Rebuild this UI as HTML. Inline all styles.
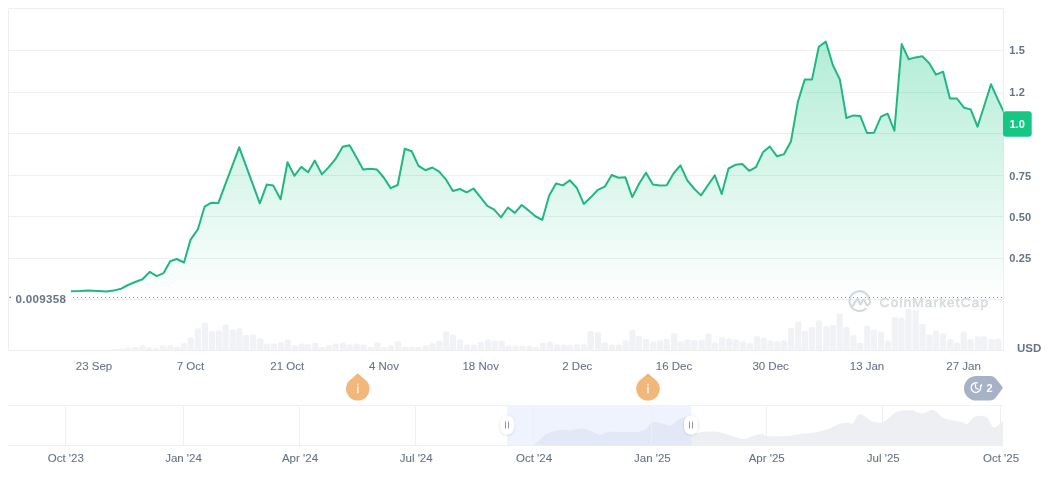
<!DOCTYPE html>
<html><head><meta charset="utf-8">
<style>
html,body{margin:0;padding:0;background:#fff;width:1061px;height:480px;overflow:hidden;}
svg{display:block;font-family:"Liberation Sans", sans-serif;will-change:transform;}
</style></head>
<body>
<svg width="1061" height="480" viewBox="0 0 1061 480">
<defs>
<linearGradient id="gf" gradientUnits="userSpaceOnUse" x1="0" y1="41" x2="0" y2="300">
<stop offset="0" stop-color="#16c784" stop-opacity="0.33"/>
<stop offset="1" stop-color="#16c784" stop-opacity="0.0"/>
</linearGradient>
<clipPath id="cp"><rect x="8" y="8" width="995.5" height="342"/></clipPath>
<filter id="sh" x="-50%" y="-50%" width="200%" height="200%"><feDropShadow dx="0" dy="0.5" stdDeviation="0.8" flood-color="#000" flood-opacity="0.18"/></filter>
</defs>
<rect x="0" y="0" width="1061" height="480" fill="#fff"/>
<!-- volume bars -->
<g fill="#f0f2f5" clip-path="url(#cp)">
<rect x="111.30" y="349.00" width="6.2" height="3.00" rx="1.8"/>
<rect x="118.10" y="348.60" width="6.2" height="3.40" rx="1.8"/>
<rect x="124.90" y="347.70" width="6.2" height="4.30" rx="1.8"/>
<rect x="132.10" y="346.90" width="6.2" height="5.10" rx="1.8"/>
<rect x="139.30" y="345.30" width="6.2" height="6.70" rx="1.8"/>
<rect x="146.10" y="347.30" width="6.2" height="4.70" rx="1.8"/>
<rect x="152.90" y="348.10" width="6.2" height="3.90" rx="1.8"/>
<rect x="160.00" y="345.20" width="6.2" height="6.80" rx="1.8"/>
<rect x="167.20" y="345.30" width="6.2" height="6.70" rx="1.8"/>
<rect x="174.00" y="346.40" width="6.2" height="5.60" rx="1.8"/>
<rect x="180.60" y="343.20" width="6.2" height="8.80" rx="1.8"/>
<rect x="187.60" y="337.40" width="6.2" height="14.60" rx="1.8"/>
<rect x="194.70" y="328.20" width="6.2" height="23.80" rx="1.8"/>
<rect x="201.80" y="322.60" width="6.2" height="29.40" rx="1.8"/>
<rect x="208.80" y="331.30" width="6.2" height="20.70" rx="1.8"/>
<rect x="215.70" y="330.30" width="6.2" height="21.70" rx="1.8"/>
<rect x="222.50" y="324.40" width="6.2" height="27.60" rx="1.8"/>
<rect x="229.60" y="329.50" width="6.2" height="22.50" rx="1.8"/>
<rect x="236.30" y="328.20" width="6.2" height="23.80" rx="1.8"/>
<rect x="243.10" y="335.00" width="6.2" height="17.00" rx="1.8"/>
<rect x="250.10" y="334.40" width="6.2" height="17.60" rx="1.8"/>
<rect x="257.20" y="338.30" width="6.2" height="13.70" rx="1.8"/>
<rect x="263.90" y="343.40" width="6.2" height="8.60" rx="1.8"/>
<rect x="270.90" y="343.40" width="6.2" height="8.60" rx="1.8"/>
<rect x="277.90" y="342.20" width="6.2" height="9.80" rx="1.8"/>
<rect x="284.70" y="339.50" width="6.2" height="12.50" rx="1.8"/>
<rect x="291.70" y="345.30" width="6.2" height="6.70" rx="1.8"/>
<rect x="298.60" y="343.40" width="6.2" height="8.60" rx="1.8"/>
<rect x="304.90" y="344.20" width="6.2" height="7.80" rx="1.8"/>
<rect x="312.30" y="342.80" width="6.2" height="9.20" rx="1.8"/>
<rect x="319.10" y="346.80" width="6.2" height="5.20" rx="1.8"/>
<rect x="325.80" y="345.20" width="6.2" height="6.80" rx="1.8"/>
<rect x="332.50" y="343.40" width="6.2" height="8.60" rx="1.8"/>
<rect x="339.90" y="342.50" width="6.2" height="9.50" rx="1.8"/>
<rect x="346.60" y="344.40" width="6.2" height="7.60" rx="1.8"/>
<rect x="353.40" y="343.40" width="6.2" height="8.60" rx="1.8"/>
<rect x="360.50" y="344.40" width="6.2" height="7.60" rx="1.8"/>
<rect x="367.50" y="346.70" width="6.2" height="5.30" rx="1.8"/>
<rect x="374.20" y="342.40" width="6.2" height="9.60" rx="1.8"/>
<rect x="380.90" y="347.00" width="6.2" height="5.00" rx="1.8"/>
<rect x="387.70" y="345.20" width="6.2" height="6.80" rx="1.8"/>
<rect x="395.00" y="341.30" width="6.2" height="10.70" rx="1.8"/>
<rect x="401.80" y="346.40" width="6.2" height="5.60" rx="1.8"/>
<rect x="408.50" y="346.40" width="6.2" height="5.60" rx="1.8"/>
<rect x="415.30" y="346.70" width="6.2" height="5.30" rx="1.8"/>
<rect x="422.60" y="345.20" width="6.2" height="6.80" rx="1.8"/>
<rect x="429.30" y="343.00" width="6.2" height="9.00" rx="1.8"/>
<rect x="436.20" y="340.80" width="6.2" height="11.20" rx="1.8"/>
<rect x="443.20" y="331.60" width="6.2" height="20.40" rx="1.8"/>
<rect x="450.00" y="334.50" width="6.2" height="17.50" rx="1.8"/>
<rect x="457.00" y="339.60" width="6.2" height="12.40" rx="1.8"/>
<rect x="464.00" y="344.50" width="6.2" height="7.50" rx="1.8"/>
<rect x="470.90" y="344.50" width="6.2" height="7.50" rx="1.8"/>
<rect x="477.90" y="341.80" width="6.2" height="10.20" rx="1.8"/>
<rect x="484.90" y="339.60" width="6.2" height="12.40" rx="1.8"/>
<rect x="491.70" y="340.60" width="6.2" height="11.40" rx="1.8"/>
<rect x="498.70" y="340.80" width="6.2" height="11.20" rx="1.8"/>
<rect x="505.40" y="345.50" width="6.2" height="6.50" rx="1.8"/>
<rect x="512.40" y="345.50" width="6.2" height="6.50" rx="1.8"/>
<rect x="519.30" y="345.50" width="6.2" height="6.50" rx="1.8"/>
<rect x="526.30" y="345.70" width="6.2" height="6.30" rx="1.8"/>
<rect x="533.00" y="346.70" width="6.2" height="5.30" rx="1.8"/>
<rect x="540.00" y="342.70" width="6.2" height="9.30" rx="1.8"/>
<rect x="546.90" y="341.80" width="6.2" height="10.20" rx="1.8"/>
<rect x="553.90" y="344.30" width="6.2" height="7.70" rx="1.8"/>
<rect x="560.60" y="344.50" width="6.2" height="7.50" rx="1.8"/>
<rect x="566.80" y="345.10" width="6.2" height="6.90" rx="1.8"/>
<rect x="573.90" y="344.30" width="6.2" height="7.70" rx="1.8"/>
<rect x="580.90" y="344.30" width="6.2" height="7.70" rx="1.8"/>
<rect x="587.60" y="331.00" width="6.2" height="21.00" rx="1.8"/>
<rect x="595.00" y="332.30" width="6.2" height="19.70" rx="1.8"/>
<rect x="601.70" y="342.30" width="6.2" height="9.70" rx="1.8"/>
<rect x="608.80" y="344.50" width="6.2" height="7.50" rx="1.8"/>
<rect x="615.80" y="344.50" width="6.2" height="7.50" rx="1.8"/>
<rect x="622.60" y="340.20" width="6.2" height="11.80" rx="1.8"/>
<rect x="629.30" y="330.00" width="6.2" height="22.00" rx="1.8"/>
<rect x="636.00" y="335.90" width="6.2" height="16.10" rx="1.8"/>
<rect x="643.00" y="339.00" width="6.2" height="13.00" rx="1.8"/>
<rect x="650.10" y="341.40" width="6.2" height="10.60" rx="1.8"/>
<rect x="656.90" y="340.20" width="6.2" height="11.80" rx="1.8"/>
<rect x="663.60" y="339.00" width="6.2" height="13.00" rx="1.8"/>
<rect x="671.00" y="333.20" width="6.2" height="18.80" rx="1.8"/>
<rect x="677.70" y="341.40" width="6.2" height="10.60" rx="1.8"/>
<rect x="684.40" y="339.40" width="6.2" height="12.60" rx="1.8"/>
<rect x="691.20" y="339.90" width="6.2" height="12.10" rx="1.8"/>
<rect x="698.60" y="339.60" width="6.2" height="12.40" rx="1.8"/>
<rect x="705.40" y="333.40" width="6.2" height="18.60" rx="1.8"/>
<rect x="712.10" y="342.40" width="6.2" height="9.60" rx="1.8"/>
<rect x="719.10" y="337.50" width="6.2" height="14.50" rx="1.8"/>
<rect x="726.00" y="338.30" width="6.2" height="13.70" rx="1.8"/>
<rect x="732.70" y="339.30" width="6.2" height="12.70" rx="1.8"/>
<rect x="739.70" y="341.20" width="6.2" height="10.80" rx="1.8"/>
<rect x="746.70" y="343.20" width="6.2" height="8.80" rx="1.8"/>
<rect x="753.80" y="336.25" width="6.2" height="15.75" rx="1.8"/>
<rect x="760.50" y="338.10" width="6.2" height="13.90" rx="1.8"/>
<rect x="767.30" y="340.30" width="6.2" height="11.70" rx="1.8"/>
<rect x="774.30" y="341.20" width="6.2" height="10.80" rx="1.8"/>
<rect x="781.10" y="340.20" width="6.2" height="11.80" rx="1.8"/>
<rect x="788.10" y="328.00" width="6.2" height="24.00" rx="1.8"/>
<rect x="795.10" y="321.20" width="6.2" height="30.80" rx="1.8"/>
<rect x="801.80" y="331.00" width="6.2" height="21.00" rx="1.8"/>
<rect x="808.70" y="327.00" width="6.2" height="25.00" rx="1.8"/>
<rect x="815.70" y="320.30" width="6.2" height="31.70" rx="1.8"/>
<rect x="823.15" y="326.25" width="6.2" height="25.75" rx="1.8"/>
<rect x="829.80" y="325.00" width="6.2" height="27.00" rx="1.8"/>
<rect x="836.65" y="313.75" width="6.2" height="38.25" rx="1.8"/>
<rect x="843.40" y="326.90" width="6.2" height="25.10" rx="1.8"/>
<rect x="850.40" y="335.25" width="6.2" height="16.75" rx="1.8"/>
<rect x="857.15" y="342.75" width="6.2" height="9.25" rx="1.8"/>
<rect x="864.15" y="325.60" width="6.2" height="26.40" rx="1.8"/>
<rect x="870.90" y="329.40" width="6.2" height="22.60" rx="1.8"/>
<rect x="877.90" y="331.50" width="6.2" height="20.50" rx="1.8"/>
<rect x="884.80" y="340.60" width="6.2" height="11.40" rx="1.8"/>
<rect x="891.65" y="316.90" width="6.2" height="35.10" rx="1.8"/>
<rect x="898.40" y="317.75" width="6.2" height="34.25" rx="1.8"/>
<rect x="905.40" y="308.75" width="6.2" height="43.25" rx="1.8"/>
<rect x="912.50" y="309.75" width="6.2" height="42.25" rx="1.8"/>
<rect x="919.40" y="323.75" width="6.2" height="28.25" rx="1.8"/>
<rect x="926.30" y="334.40" width="6.2" height="17.60" rx="1.8"/>
<rect x="933.15" y="330.60" width="6.2" height="21.40" rx="1.8"/>
<rect x="940.00" y="333.50" width="6.2" height="18.50" rx="1.8"/>
<rect x="947.10" y="339.00" width="6.2" height="13.00" rx="1.8"/>
<rect x="953.90" y="342.40" width="6.2" height="9.60" rx="1.8"/>
<rect x="960.60" y="331.60" width="6.2" height="20.40" rx="1.8"/>
<rect x="967.40" y="339.00" width="6.2" height="13.00" rx="1.8"/>
<rect x="974.80" y="336.30" width="6.2" height="15.70" rx="1.8"/>
<rect x="980.90" y="336.30" width="6.2" height="15.70" rx="1.8"/>
<rect x="988.40" y="339.00" width="6.2" height="13.00" rx="1.8"/>
<rect x="995.20" y="338.40" width="6.2" height="13.60" rx="1.8"/>
</g>
<!-- grid -->
<g stroke="#efefef" stroke-width="1">
<line x1="8" y1="50.5" x2="1003" y2="50.5"/>
<line x1="8" y1="92.5" x2="1003" y2="92.5"/>
<line x1="8" y1="133.5" x2="1003" y2="133.5"/>
<line x1="8" y1="175.5" x2="1003" y2="175.5"/>
<line x1="8" y1="216.5" x2="1003" y2="216.5"/>
<line x1="8" y1="258.5" x2="1003" y2="258.5"/>
<line x1="8" y1="299.5" x2="1003" y2="299.5"/>
</g>
<!-- frame -->
<g stroke="#eeeeee" stroke-width="1" fill="none">
<path d="M8.5,350.5 V8.5 H1003.5 V350.5"/>
<line x1="8" y1="350.5" x2="1003.5" y2="350.5"/>
</g>
<!-- watermark -->
<g fill="none" stroke="#d3d8df" stroke-width="2.1" stroke-linecap="round" stroke-linejoin="round">
<path d="M869.3,300.2 A9.9,9.9 0 1 0 865.8,308.7"/>
<path d="M851.8,307.3 L856.2,300.2 Q857.7,297.9 858.8,300.6 L859.8,303.6 Q860.3,305 861.2,303.4 L862.5,300.6 Q863.6,298.6 864.6,300.6 L865.9,303.8 Q867.3,306.5 869.3,303.8 L870.2,301.8"/>
</g>
<text x="879.8" y="307" font-size="13.4" fill="#d5dae1" stroke="#d5dae1" stroke-width="0.5" letter-spacing="1.25">CoinMarketCap</text>
<!-- fill + line -->
<g clip-path="url(#cp)">
<path d="M70.10,291.30 L79.80,291.10 L88.40,290.40 L98.30,290.90 L106.80,291.40 L113.40,290.60 L121.30,288.70 L128.00,285.00 L135.20,282.00 L142.50,279.30 L149.70,271.90 L156.70,276.10 L163.60,273.10 L170.20,261.20 L176.80,259.00 L184.00,262.50 L190.60,239.60 L197.90,229.20 L204.60,206.70 L211.50,202.70 L218.30,203.10 L225.20,184.70 L232.10,166.30 L239.20,147.30 L246.10,166.10 L253.00,184.80 L259.80,203.30 L266.70,184.60 L273.30,185.60 L280.60,199.20 L287.50,162.30 L294.40,175.80 L301.25,166.90 L308.10,172.30 L314.80,160.60 L321.90,174.40 L328.75,167.10 L335.40,159.20 L342.70,146.70 L349.60,145.20 L356.25,157.10 L363.10,169.60 L370.00,168.75 L376.90,169.40 L383.75,177.50 L390.60,188.10 L397.70,185.00 L404.80,148.75 L411.70,151.25 L418.50,165.80 L425.40,170.20 L432.30,167.50 L439.20,171.70 L446.00,179.60 L452.90,191.00 L459.80,189.00 L466.70,192.30 L473.50,188.50 L480.40,197.10 L487.30,205.80 L494.20,209.60 L501.00,217.30 L507.90,207.50 L514.80,212.90 L521.70,205.00 L528.50,210.40 L535.40,216.25 L542.30,219.80 L549.20,195.60 L556.00,183.50 L562.90,185.40 L569.80,180.20 L576.70,187.70 L583.80,203.90 L591.00,197.10 L597.90,189.80 L604.80,186.70 L611.70,175.00 L618.50,177.70 L625.40,177.30 L632.30,197.10 L639.20,183.50 L646.00,172.70 L652.90,184.60 L659.80,185.40 L666.70,185.20 L673.50,173.50 L680.40,165.40 L687.30,180.40 L694.20,188.75 L701.00,195.40 L707.90,185.20 L714.80,175.40 L721.70,194.00 L728.50,168.50 L735.40,164.80 L742.30,164.00 L749.20,170.80 L756.00,167.10 L762.90,152.30 L769.80,146.50 L777.00,156.30 L784.10,154.10 L790.90,141.60 L797.90,101.80 L804.70,79.60 L812.00,79.60 L818.80,46.80 L825.80,41.65 L832.90,65.20 L839.90,79.60 L846.40,118.00 L853.40,115.40 L860.20,115.90 L867.00,133.00 L874.00,132.70 L881.00,116.70 L887.60,113.70 L894.40,130.75 L901.70,44.10 L908.70,59.25 L915.50,57.40 L922.25,56.30 L929.30,63.30 L936.00,74.70 L943.10,71.70 L949.90,98.50 L956.90,98.50 L964.00,107.70 L970.70,109.40 L977.50,126.70 L984.30,105.50 L991.00,84.20 L997.80,99.30 L1004.60,113.60 L1004.60,299.5 L70.10,299.5 Z" fill="url(#gf)"/>
<path d="M70.10,291.30 L79.80,291.10 L88.40,290.40 L98.30,290.90 L106.80,291.40 L113.40,290.60 L121.30,288.70 L128.00,285.00 L135.20,282.00 L142.50,279.30 L149.70,271.90 L156.70,276.10 L163.60,273.10 L170.20,261.20 L176.80,259.00 L184.00,262.50 L190.60,239.60 L197.90,229.20 L204.60,206.70 L211.50,202.70 L218.30,203.10 L225.20,184.70 L232.10,166.30 L239.20,147.30 L246.10,166.10 L253.00,184.80 L259.80,203.30 L266.70,184.60 L273.30,185.60 L280.60,199.20 L287.50,162.30 L294.40,175.80 L301.25,166.90 L308.10,172.30 L314.80,160.60 L321.90,174.40 L328.75,167.10 L335.40,159.20 L342.70,146.70 L349.60,145.20 L356.25,157.10 L363.10,169.60 L370.00,168.75 L376.90,169.40 L383.75,177.50 L390.60,188.10 L397.70,185.00 L404.80,148.75 L411.70,151.25 L418.50,165.80 L425.40,170.20 L432.30,167.50 L439.20,171.70 L446.00,179.60 L452.90,191.00 L459.80,189.00 L466.70,192.30 L473.50,188.50 L480.40,197.10 L487.30,205.80 L494.20,209.60 L501.00,217.30 L507.90,207.50 L514.80,212.90 L521.70,205.00 L528.50,210.40 L535.40,216.25 L542.30,219.80 L549.20,195.60 L556.00,183.50 L562.90,185.40 L569.80,180.20 L576.70,187.70 L583.80,203.90 L591.00,197.10 L597.90,189.80 L604.80,186.70 L611.70,175.00 L618.50,177.70 L625.40,177.30 L632.30,197.10 L639.20,183.50 L646.00,172.70 L652.90,184.60 L659.80,185.40 L666.70,185.20 L673.50,173.50 L680.40,165.40 L687.30,180.40 L694.20,188.75 L701.00,195.40 L707.90,185.20 L714.80,175.40 L721.70,194.00 L728.50,168.50 L735.40,164.80 L742.30,164.00 L749.20,170.80 L756.00,167.10 L762.90,152.30 L769.80,146.50 L777.00,156.30 L784.10,154.10 L790.90,141.60 L797.90,101.80 L804.70,79.60 L812.00,79.60 L818.80,46.80 L825.80,41.65 L832.90,65.20 L839.90,79.60 L846.40,118.00 L853.40,115.40 L860.20,115.90 L867.00,133.00 L874.00,132.70 L881.00,116.70 L887.60,113.70 L894.40,130.75 L901.70,44.10 L908.70,59.25 L915.50,57.40 L922.25,56.30 L929.30,63.30 L936.00,74.70 L943.10,71.70 L949.90,98.50 L956.90,98.50 L964.00,107.70 L970.70,109.40 L977.50,126.70 L984.30,105.50 L991.00,84.20 L997.80,99.30 L1004.60,113.60" fill="none" stroke="#1eb880" stroke-width="2" stroke-linejoin="round" stroke-linecap="round"/>
</g>
<!-- dotted min line -->
<line x1="73" y1="297.5" x2="1003" y2="297.5" stroke="#8c8f96" stroke-width="1" stroke-dasharray="1 3"/>
<rect x="9" y="290" width="62" height="14" fill="#fff"/>
<rect x="9.5" y="296.7" width="1.4" height="1.4" fill="#6b7588"/>
<text x="15.5" y="302.6" font-size="11.6" font-weight="bold" fill="#68728a" letter-spacing="0.3">0.009358</text>
<!-- y labels -->
<g font-size="11" font-weight="bold" fill="#66728a" letter-spacing="0.15">
<text x="1009.3" y="54.3">1.5</text>
<text x="1009.3" y="96.4">1.2</text>
<text x="1009.3" y="179.5">0.75</text>
<text x="1009.3" y="220.8">0.50</text>
<text x="1009.3" y="262">0.25</text>
</g>
<rect x="1003" y="111.25" width="28.7" height="25.5" rx="3" fill="#16c784"/>
<text x="1009.6" y="128" font-size="11" font-weight="bold" fill="#fff">1.0</text>
<text x="1017" y="351.5" font-size="11.5" font-weight="bold" fill="#66728a">USD</text>
<!-- x labels -->
<g font-size="11.5" fill="#66728a" stroke="#66728a" stroke-width="0.08" text-anchor="middle">
<text x="94" y="370">23 Sep</text>
<text x="190.5" y="370">7 Oct</text>
<text x="287.3" y="370">21 Oct</text>
<text x="384" y="370">4 Nov</text>
<text x="480.7" y="370">18 Nov</text>
<text x="577.3" y="370">2 Dec</text>
<text x="674" y="370">16 Dec</text>
<text x="770.6" y="370">30 Dec</text>
<text x="867" y="370">13 Jan</text>
<text x="963.6" y="370">27 Jan</text>
</g>
<!-- markers -->
<path d="M349.46,380.46 Q354.23,377.13 356.80,374.07 Q357.80,373.00 358.80,374.07 Q361.37,377.13 366.14,380.46 A11.8,11.8 0 1 1 349.46,380.46 Z" fill="#f2b77b"/><rect x="357.00" y="383.80" width="1.6" height="1.7" fill="#fdf0e2"/><rect x="357.00" y="386.40" width="1.6" height="6.9" fill="#fdf0e2"/>
<path d="M639.66,380.46 Q644.43,377.13 647.00,374.07 Q648.00,373.00 649.00,374.07 Q651.57,377.13 656.34,380.46 A11.8,11.8 0 1 1 639.66,380.46 Z" fill="#f2b77b"/><rect x="647.20" y="383.80" width="1.6" height="1.7" fill="#fdf0e2"/><rect x="647.20" y="386.40" width="1.6" height="6.9" fill="#fdf0e2"/>
<path d="M976.3,375.9 H990.5 Q993.5,375.9 995.5,378.3 L1002.2,386.5 Q1003.2,387.8 1002.2,389.1 L995.5,398.1 Q993.5,400.5 990.5,400.5 H976.3 A12.3,12.3 0 0 1 976.3,375.9 Z" fill="#a8b2c6"/>
<g fill="none" stroke="#fff" stroke-width="1.3" stroke-linecap="round" stroke-linejoin="round">
<path d="M980.6,386.2 A4.8,4.8 0 1 1 977.2,382.9"/>
<path d="M975.4,384.6 L975.6,387.8 L978.2,389.2"/>
</g>
<path d="M979.3,386.6 L982.3,386.3 L981.6,383.6 Z" fill="#fff"/>
<text x="986.5" y="391.8" font-size="11" font-weight="bold" fill="#fff">2</text>
<!-- navigator -->
<rect x="507.2" y="405.5" width="184" height="40" fill="#eff3fd"/>
<g stroke="#f1f1f1" stroke-width="1">
<line x1="8" y1="405.5" x2="1003" y2="405.5"/>
<line x1="8" y1="445.5" x2="1003" y2="445.5"/>
<line x1="65.5" y1="405" x2="65.5" y2="445.5"/>
<line x1="183.5" y1="405" x2="183.5" y2="445.5"/>
<line x1="299.5" y1="405" x2="299.5" y2="445.5"/>
<line x1="415.5" y1="405" x2="415.5" y2="445.5"/>
<line x1="533.5" y1="405" x2="533.5" y2="445.5"/>
<line x1="651.5" y1="405" x2="651.5" y2="445.5"/>
<line x1="766.5" y1="405" x2="766.5" y2="445.5"/>
<line x1="882.5" y1="405" x2="882.5" y2="445.5"/>
<line x1="1000.5" y1="405" x2="1000.5" y2="445.5"/>
</g>
<path d="M533.50,445.50 C534.35,444.70 536.35,442.63 538.60,440.70 C540.85,438.77 543.33,435.73 547.00,433.90 C550.67,432.07 556.63,430.27 560.60,429.70 C564.57,429.13 567.40,430.70 570.80,430.50 C574.20,430.30 577.88,428.50 581.00,428.50 C584.12,428.50 586.38,429.45 589.50,430.50 C592.62,431.55 596.60,434.52 599.70,434.80 C602.80,435.08 604.72,432.68 608.10,432.20 C611.48,431.72 615.75,431.90 620.00,431.90 C624.25,431.90 629.63,432.43 633.60,432.20 C637.57,431.97 641.25,431.63 643.80,430.50 C646.35,429.37 647.20,426.82 648.90,425.40 C650.60,423.98 652.03,422.42 654.00,422.00 C655.97,421.58 657.88,422.33 660.70,422.90 C663.52,423.47 668.07,425.82 670.90,425.40 C673.73,424.98 675.72,421.67 677.70,420.40 C679.68,419.13 681.08,418.37 682.80,417.80 C684.52,417.23 686.63,416.97 688.00,417.00 C689.37,417.03 689.83,415.43 691.00,418.00 C692.17,420.57 692.83,430.12 695.00,432.40 C697.17,434.68 700.23,431.82 704.00,431.70 C707.77,431.58 713.57,431.20 717.60,431.70 C721.63,432.20 723.92,433.50 728.20,434.70 C732.48,435.90 739.28,438.65 743.30,438.90 C747.32,439.15 749.28,437.10 752.30,436.20 C755.32,435.30 758.88,433.55 761.40,433.50 C763.92,433.45 763.38,435.45 767.40,435.90 C771.42,436.35 779.97,436.52 785.50,436.20 C791.03,435.88 795.07,434.75 800.60,434.00 C806.13,433.25 813.68,432.72 818.70,431.70 C823.72,430.68 827.18,429.22 830.70,427.90 C834.22,426.58 837.03,424.68 839.80,423.80 C842.57,422.92 845.10,422.67 847.30,422.60 C849.50,422.53 851.42,424.40 853.00,423.40 C854.58,422.40 855.53,418.12 856.80,416.60 C858.07,415.08 859.23,414.30 860.60,414.30 C861.97,414.30 863.25,415.47 865.00,416.60 C866.75,417.73 869.08,420.10 871.10,421.10 C873.12,422.10 875.33,422.40 877.10,422.60 C878.87,422.80 879.93,422.92 881.70,422.30 C883.47,421.68 885.45,420.48 887.70,418.90 C889.95,417.32 892.68,414.18 895.20,412.80 C897.72,411.42 899.78,410.97 902.80,410.60 C905.82,410.23 910.03,410.10 913.30,410.60 C916.57,411.10 919.38,413.73 922.40,413.60 C925.42,413.47 928.88,409.93 931.40,409.80 C933.92,409.67 935.48,411.42 937.50,412.80 C939.52,414.18 940.98,416.83 943.50,418.10 C946.02,419.37 949.58,419.77 952.60,420.40 C955.62,421.03 959.10,421.33 961.60,421.90 C964.10,422.47 965.58,424.57 967.60,423.80 C969.62,423.03 971.43,418.63 973.70,417.30 C975.97,415.97 978.93,415.67 981.20,415.80 C983.47,415.93 985.28,416.22 987.30,418.10 C989.32,419.98 991.30,426.05 993.30,427.10 C995.30,428.15 998.02,425.15 999.30,424.40 C1000.58,423.65 1000.38,423.17 1001.00,422.60 C1001.62,422.03 1002.67,421.27 1003.00,421.00 L1003,445.5 L533.5,445.5 Z" fill="#edeff3"/>
<clipPath id="sel"><rect x="507.2" y="405" width="184" height="41"/></clipPath>
<path d="M533.50,445.50 C534.35,444.70 536.35,442.63 538.60,440.70 C540.85,438.77 543.33,435.73 547.00,433.90 C550.67,432.07 556.63,430.27 560.60,429.70 C564.57,429.13 567.40,430.70 570.80,430.50 C574.20,430.30 577.88,428.50 581.00,428.50 C584.12,428.50 586.38,429.45 589.50,430.50 C592.62,431.55 596.60,434.52 599.70,434.80 C602.80,435.08 604.72,432.68 608.10,432.20 C611.48,431.72 615.75,431.90 620.00,431.90 C624.25,431.90 629.63,432.43 633.60,432.20 C637.57,431.97 641.25,431.63 643.80,430.50 C646.35,429.37 647.20,426.82 648.90,425.40 C650.60,423.98 652.03,422.42 654.00,422.00 C655.97,421.58 657.88,422.33 660.70,422.90 C663.52,423.47 668.07,425.82 670.90,425.40 C673.73,424.98 675.72,421.67 677.70,420.40 C679.68,419.13 681.08,418.37 682.80,417.80 C684.52,417.23 686.63,416.97 688.00,417.00 C689.37,417.03 689.83,415.43 691.00,418.00 C692.17,420.57 692.83,430.12 695.00,432.40 C697.17,434.68 700.23,431.82 704.00,431.70 C707.77,431.58 713.57,431.20 717.60,431.70 C721.63,432.20 723.92,433.50 728.20,434.70 C732.48,435.90 739.28,438.65 743.30,438.90 C747.32,439.15 749.28,437.10 752.30,436.20 C755.32,435.30 758.88,433.55 761.40,433.50 C763.92,433.45 763.38,435.45 767.40,435.90 C771.42,436.35 779.97,436.52 785.50,436.20 C791.03,435.88 795.07,434.75 800.60,434.00 C806.13,433.25 813.68,432.72 818.70,431.70 C823.72,430.68 827.18,429.22 830.70,427.90 C834.22,426.58 837.03,424.68 839.80,423.80 C842.57,422.92 845.10,422.67 847.30,422.60 C849.50,422.53 851.42,424.40 853.00,423.40 C854.58,422.40 855.53,418.12 856.80,416.60 C858.07,415.08 859.23,414.30 860.60,414.30 C861.97,414.30 863.25,415.47 865.00,416.60 C866.75,417.73 869.08,420.10 871.10,421.10 C873.12,422.10 875.33,422.40 877.10,422.60 C878.87,422.80 879.93,422.92 881.70,422.30 C883.47,421.68 885.45,420.48 887.70,418.90 C889.95,417.32 892.68,414.18 895.20,412.80 C897.72,411.42 899.78,410.97 902.80,410.60 C905.82,410.23 910.03,410.10 913.30,410.60 C916.57,411.10 919.38,413.73 922.40,413.60 C925.42,413.47 928.88,409.93 931.40,409.80 C933.92,409.67 935.48,411.42 937.50,412.80 C939.52,414.18 940.98,416.83 943.50,418.10 C946.02,419.37 949.58,419.77 952.60,420.40 C955.62,421.03 959.10,421.33 961.60,421.90 C964.10,422.47 965.58,424.57 967.60,423.80 C969.62,423.03 971.43,418.63 973.70,417.30 C975.97,415.97 978.93,415.67 981.20,415.80 C983.47,415.93 985.28,416.22 987.30,418.10 C989.32,419.98 991.30,426.05 993.30,427.10 C995.30,428.15 998.02,425.15 999.30,424.40 C1000.58,423.65 1000.38,423.17 1001.00,422.60 C1001.62,422.03 1002.67,421.27 1003.00,421.00 L1003,445.5 L533.5,445.5 Z" fill="#e2e8f5" clip-path="url(#sel)"/>
<g stroke="#eeeff1" stroke-width="1">
<line x1="65.5" y1="405" x2="65.5" y2="445.5"/>
<line x1="183.5" y1="405" x2="183.5" y2="445.5"/>
<line x1="299.5" y1="405" x2="299.5" y2="445.5"/>
<line x1="415.5" y1="405" x2="415.5" y2="445.5"/>
<line x1="533.5" y1="405" x2="533.5" y2="445.5"/>
<line x1="651.5" y1="405" x2="651.5" y2="445.5"/>
<line x1="766.5" y1="405" x2="766.5" y2="445.5"/>
<line x1="882.5" y1="405" x2="882.5" y2="445.5"/>
<line x1="1000.5" y1="405" x2="1000.5" y2="445.5"/>
</g>
<g filter="url(#sh)">
<rect x="500.2" y="415.6" width="14" height="19" rx="7" fill="#fff"/>
<rect x="684" y="415.6" width="14" height="19" rx="7" fill="#fff"/>
</g>
<g stroke="#858c99" stroke-width="0.9">
<line x1="505.5" y1="421.5" x2="505.5" y2="428.5"/><line x1="508.5" y1="421.5" x2="508.5" y2="428.5"/>
<line x1="689.5" y1="421.5" x2="689.5" y2="428.5"/><line x1="692.5" y1="421.5" x2="692.5" y2="428.5"/>
</g>
<g font-size="11.5" fill="#65718a" stroke="#65718a" stroke-width="0.08" text-anchor="middle">
<text x="65.8" y="462">Oct '23</text>
<text x="183.5" y="462">Jan '24</text>
<text x="300" y="462">Apr '24</text>
<text x="416.2" y="462">Jul '24</text>
<text x="534" y="462">Oct '24</text>
<text x="652.4" y="462">Jan '25</text>
<text x="766.7" y="462">Apr '25</text>
<text x="883.3" y="462">Jul '25</text>
<text x="1001" y="462">Oct '25</text>
</g>
</svg>
</body></html>
